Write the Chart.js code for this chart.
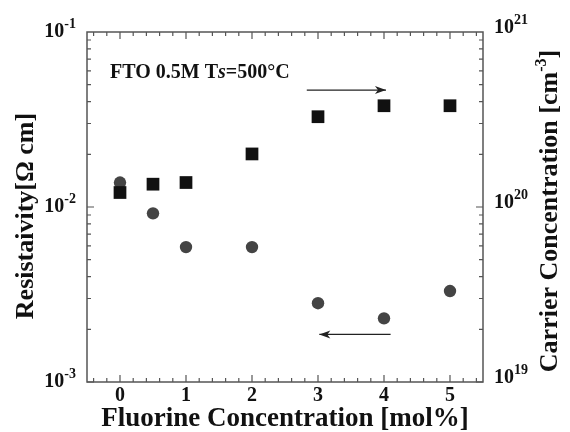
<!DOCTYPE html>
<html>
<head>
<meta charset="utf-8">
<script src="https://cdn.jsdelivr.net/npm/chart.js@4.4.0/dist/chart.umd.min.js"></script>
<style>html,body{margin:0;padding:0;background:#fff}</style>
</head>
<body>
<canvas id="c" width="570" height="432"></canvas>
<script>
// data
const fluorine = [0, 0.5, 1, 2, 3, 4, 5];
const resistivity = [1.38e-2, 9.2e-3, 5.9e-3, 5.9e-3, 2.82e-3, 2.31e-3, 3.31e-3];
const carrier = [1.21e20, 1.35e20, 1.38e20, 2.01e20, 3.28e20, 3.79e20, 3.79e20];
const xTicks = [0, 1, 2, 3, 4, 5];
const leftExp = [-3, -2, -1];
const rightExp = [19, 20, 21];
// arrows: [x from, x to, y value, axis]
const arrows = [
  [2.83, 4.03, 4.66e20, 'y2'],
  [4.1, 3.02, 1.87e-3, 'y']
];

const SERIF = '"Liberation Serif", "Times New Roman", serif';
const font = (size, it) => (it ? 'italic ' : '') + 'bold ' + size + 'px ' + SERIF;

// draw a run of text pieces on one baseline, pieces = [text, size, raise, italic]
function drawRun(ctx, pieces, x, y, align) {
  let w = 0;
  pieces.forEach(p => { ctx.font = font(p[1], p[3]); w += ctx.measureText(p[0]).width; });
  let cx = align === 'right' ? x - w : align === 'center' ? x - w / 2 : x;
  ctx.textAlign = 'left';
  pieces.forEach(p => {
    ctx.font = font(p[1], p[3]);
    ctx.fillText(p[0], cx, y - (p[2] || 0));
    cx += ctx.measureText(p[0]).width;
  });
}

const framePlugin = {
  id: 'frame',
  beforeDatasetsDraw(chart) {
    const { ctx, chartArea: a, scales } = chart;
    const xs = scales.x, yl = scales.y, yr = scales.y2;
    ctx.save();
    ctx.strokeStyle = '#555';
    ctx.lineWidth = 1.5;
    ctx.strokeRect(a.left, a.top, a.right - a.left, a.bottom - a.top);
    ctx.lineWidth = 1.2;
    ctx.beginPath();
    // x ticks (bottom and top), minor every 0.2
    for (let i = -2; i <= 27; i++) {
      const v = i / 5;
      const px = xs.getPixelForValue(v);
      const len = (i % 5 === 0) ? 7 : 4;
      ctx.moveTo(px, a.bottom); ctx.lineTo(px, a.bottom - len);
      ctx.moveTo(px, a.top); ctx.lineTo(px, a.top + len);
    }
    // log ticks
    const logTicks = (scale, exps, xEdge, dir) => {
      for (let e = exps[0]; e < exps[exps.length - 1]; e++) {
        for (let m = 1; m <= 9; m++) {
          const py = scale.getPixelForValue(m * Math.pow(10, e));
          const len = m === 1 ? 7 : 4;
          ctx.moveTo(xEdge, py); ctx.lineTo(xEdge + dir * len, py);
        }
      }
    };
    logTicks(yl, leftExp, a.left, 1);
    logTicks(yr, rightExp, a.right, -1);
    ctx.stroke();

    // tick labels
    ctx.fillStyle = '#111';
    ctx.textBaseline = 'middle';
    xTicks.forEach(v => {
      drawRun(ctx, [[String(v), 20]], xs.getPixelForValue(v), a.bottom + 14, 'center');
    });
    leftExp.forEach(e => {
      drawRun(ctx, [['10', 20], [String(e), 14, 8]], a.left - 11, yl.getPixelForValue(Math.pow(10, e)), 'right');
    });
    rightExp.forEach(e => {
      drawRun(ctx, [['10', 20], [String(e), 14, 8]], a.right + 11, yr.getPixelForValue(Math.pow(10, e)) - 4, 'left');
    });

    // axis titles
    ctx.textBaseline = 'alphabetic';
    drawRun(ctx, [['Fluorine Concentration [mol%]', 27]], (a.left + a.right) / 2, 426, 'center');
    ctx.save();
    ctx.translate(33, 216);
    ctx.rotate(-Math.PI / 2);
    drawRun(ctx, [['Resistaivity[\u03a9 cm]', 26]], 0, 0, 'center');
    ctx.restore();
    ctx.save();
    ctx.translate(557, 211);
    ctx.rotate(-Math.PI / 2);
    drawRun(ctx, [['Carrier Concentration [cm', 26], ['-3', 16, 11], [']', 26]], 0, 0, 'center');
    ctx.restore();

    // annotation text
    drawRun(ctx, [['FTO 0.5M T', 20], ['s', 20, 0, true], ['=500\u00b0C', 20]], a.left + 23, 78, 'left');

    // arrows
    ctx.strokeStyle = '#222';
    ctx.fillStyle = '#222';
    ctx.lineWidth = 1.3;
    arrows.forEach(([x0, x1, yv, ax]) => {
      const p0 = xs.getPixelForValue(x0), p1 = xs.getPixelForValue(x1);
      const py = scales[ax].getPixelForValue(yv);
      const d = Math.sign(p1 - p0);
      ctx.beginPath();
      ctx.moveTo(p0, py); ctx.lineTo(p1, py);
      ctx.stroke();
      ctx.beginPath();
      ctx.moveTo(p1, py);
      ctx.lineTo(p1 - d * 11, py - 4);
      ctx.lineTo(p1 - d * 8, py);
      ctx.lineTo(p1 - d * 11, py + 4);
      ctx.closePath();
      ctx.fill();
    });
    ctx.restore();
  }
};

new Chart(document.getElementById('c'), {
  type: 'scatter',
  data: {
    datasets: [
      {
        label: 'Carrier Concentration',
        data: fluorine.map((x, i) => ({ x, y: carrier[i] })),
        yAxisID: 'y2',
        pointStyle: 'rect',
        pointRadius: 9,
        backgroundColor: '#111',
        borderColor: '#111',
        borderWidth: 0
      },
      {
        label: 'Resistivity',
        data: fluorine.map((x, i) => ({ x, y: resistivity[i] })),
        yAxisID: 'y',
        pointStyle: 'circle',
        pointRadius: 6.2,
        backgroundColor: '#444',
        borderColor: '#444',
        borderWidth: 0
      }
    ]
  },
  options: {
    responsive: false,
    animation: false,
    layout: { padding: { left: 87, right: 87, top: 32, bottom: 50 } },
    plugins: { legend: { display: false }, tooltip: { enabled: false } },
    scales: {
      x: { type: 'linear', min: -0.5, max: 5.5, display: false },
      y: { type: 'logarithmic', min: 1e-3, max: 1e-1, display: false },
      y2: { type: 'logarithmic', min: 1e19, max: 1e21, display: false, position: 'right' }
    }
  },
  plugins: [framePlugin]
});
</script>
</body>
</html>
